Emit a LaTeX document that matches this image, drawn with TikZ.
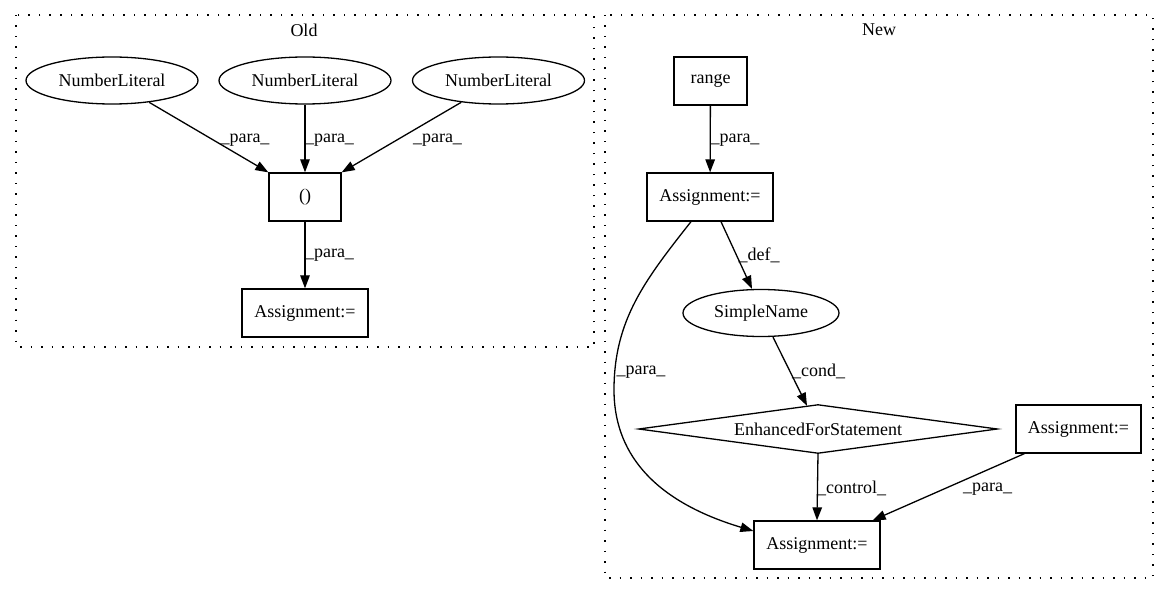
\documentclass[tikz,border=0pt]{standalone}
\usepackage{fontspec}
\setmainfont{Liberation Serif}
\usetikzlibrary{arrows.meta,shapes.geometric}
\begin{document}
\begin{tikzpicture}[x=1pt,y=-1pt,
  every node/.style={font=\fontsize{18pt}{21pt}\selectfont},
  ell/.style={draw,ellipse,line width=1.3pt,inner sep=0pt,minimum height=47pt},
  bx/.style={draw,rectangle,line width=1.3pt,inner sep=0pt,minimum height=48pt},
  lab/.style={inner sep=0pt},
  edge/.style={line width=1.3pt,-{Triangle[length=13pt,width=9.5pt]}},
  clus/.style={line width=1.3pt,dash pattern=on 1.5pt off 9pt}]
\useasboundingbox (0,0) rectangle (1168,596);
\fill[white] (0,0) rectangle (1168,596);
% clusters
\draw[clus] (16,15) rectangle (594,347);
\draw[clus] (605,15) rectangle (1153,578);
\node[lab] (told) at (304,30) {Old};
\node[lab] (tnew) at (879,30) {New};
% Old nodes
\node[ell,minimum width=172pt] (n1) at (112,80.5) {NumberLiteral};
\node[ell,minimum width=172pt] (n2) at (305,80.5) {NumberLiteral};
\node[ell,minimum width=172pt] (n3) at (498.5,80.5) {NumberLiteral};
\node[bx,minimum width=72pt] (p) at (305,197) {()};
\node[bx,minimum width=126pt] (a0) at (305,313) {Assignment:=};
\draw[edge] (n1) -- (p.north west);
\draw[edge] (n2) -- (p);
\draw[edge] (n3) -- (p.north east);
\draw[edge] (p) -- (a0);
\node[lab] (l1) at (245,140) {\_para\_};
\node[lab] (l2) at (329.5,140) {\_para\_};
\node[lab] (l3) at (437.5,140) {\_para\_};
\node[lab] (l4) at (329.5,255) {\_para\_};
% New nodes
\node[bx,minimum width=73pt] (rg) at (710.5,81) {range};
\node[bx,minimum width=126pt] (a1) at (710,197) {Assignment:=};
\node[ell,minimum width=156pt] (sn) at (761,313) {SimpleName};
\node[inner sep=0pt,minimum width=358pt,minimum height=48pt] (efs) at (818,429) {EnhancedForStatement};
\draw[line width=1.3pt,line join=miter] (efs.west) -- (efs.north) -- (efs.east) -- (efs.south) -- cycle;
\node[bx,minimum width=125pt] (a3) at (1078.5,429) {Assignment:=};
\node[bx,minimum width=126pt] (b2) at (817,545) {Assignment:=};
\draw[edge] (rg) -- (a1);
\draw[edge] ([xshift=11pt]a1.south) -- ([xshift=-9pt]sn.north);
\draw[edge] ([xshift=12pt]sn.south) -- ([xshift=-11pt,yshift=-1pt]efs.north);
\draw[edge] (efs.south) -- (b2.north);
\draw[edge] ([xshift=9pt]a3.south west) -- ([xshift=-8pt]b2.north east);
\draw[edge] ([xshift=-19pt]a1.south) .. controls (645,280) and (614,320) .. (614,390)
  .. controls (614,450) and (650,500) .. ([yshift=14pt]b2.west);
\node[lab] (l5) at (735,140) {\_para\_};
\node[lab] (l6) at (759,255) {\_def\_};
\node[lab] (l7) at (818.5,371) {\_cond\_};
\node[lab] (l8) at (641,372) {\_para\_};
\node[lab] (l9) at (851.5,488) {\_control\_};
\node[lab] (l10) at (987.5,489) {\_para\_};
\end{tikzpicture}
\end{document}
